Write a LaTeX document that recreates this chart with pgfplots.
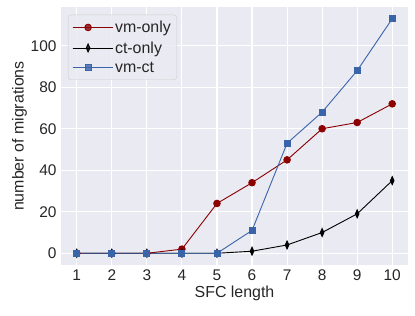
\documentclass[border=0pt]{standalone}
\usepackage{pgfplots}
\pgfplotsset{compat=1.18}
\usepackage{fontspec}
\setmainfont{Liberation Sans}
\definecolor{sbbg}{HTML}{EAEAF2}
\definecolor{sbtxt}{HTML}{262626}
\definecolor{vmonly}{HTML}{8B0000}
\definecolor{vmct}{HTML}{3A64AA}
\begin{document}
\begin{tikzpicture}
\begin{axis}[
  scale only axis,
  width=347bp, height=258bp,
  xmin=0.55, xmax=10.45,
  ymin=-5.65, ymax=118.65,
  xtick={1,2,3,4,5,6,7,8,9,10},
  ytick={0,20,40,60,80,100},
  axis background/.style={fill=sbbg},
  axis line style={draw=none},
  tick style={draw=none},
  grid=major,
  major grid style={white, line width=1.1bp},
  /pgf/number format/assume math mode=true,
  tick label style={font=\fontsize{15.5}{18}\selectfont, text=sbtxt},
  label style={font=\fontsize{16}{18}\selectfont, text=sbtxt},
  xlabel={SFC length},
  ylabel={number of migrations},
  xticklabel style={yshift=-1bp},
  yticklabel style={xshift=-1bp},
  xlabel style={yshift=1bp},
  ylabel style={yshift=-3bp},
  legend cell align=left,
  legend style={at={(0.02,0.97)}, anchor=north west, fill=sbbg, fill opacity=0.8, text opacity=1,
    draw=black!20, rounded corners=3bp, font=\fontsize{16}{18}\selectfont, text=sbtxt,
    inner xsep=4bp, inner ysep=4bp, row sep=3.5bp},
  legend image code/.code={\path (0bp,0bp) -- (40bp,0bp);\draw[mark repeat=2,mark phase=2,#1] plot coordinates {(0bp,0bp) (15.5bp,0bp) (31bp,0bp)};},
]
\addplot[vmonly, line width=0.9bp, mark=*, mark size=3.3bp, mark options={solid, fill=vmonly, draw=vmonly}]
  coordinates {(1,0)(2,0)(3,0)(4,2)(5,24)(6,34)(7,45)(8,60)(9,63)(10,72)};
\addlegendentry{vm-only}
\addplot[black, line width=0.9bp, mark=diamond*, mark size=4bp, mark options={solid, fill=black, xscale=0.6}]
  coordinates {(1,0)(2,0)(3,0)(4,0)(5,0)(6,1)(7,4)(8,10)(9,19)(10,35)};
\addlegendentry{ct-only}
\addplot[vmct, line width=0.9bp, mark=square*, mark size=3bp, mark options={solid, fill=vmct}]
  coordinates {(1,0)(2,0)(3,0)(4,0)(5,0)(6,11)(7,53)(8,68)(9,88)(10,113)};
\addlegendentry{vm-ct}
\end{axis}
\path[use as bounding box] ([xshift=-61bp,yshift=-50bp]current axis.south west) rectangle ([xshift=7bp,yshift=7bp]current axis.north east);
\end{tikzpicture}
\end{document}
